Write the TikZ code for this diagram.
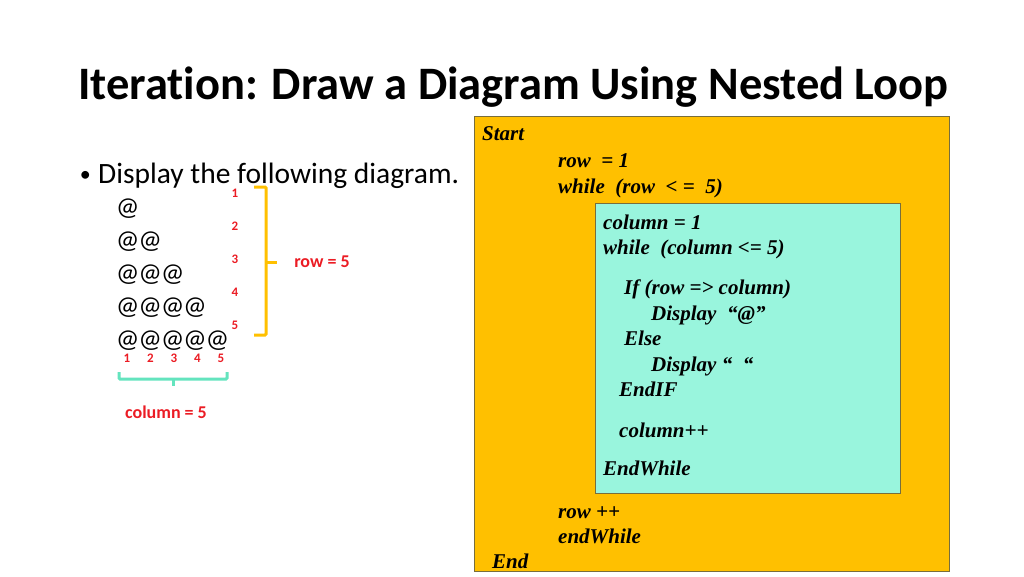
\documentclass[tikz,border=0pt]{standalone}
\usepackage{fontspec}
\setmainfont{Carlito}[Ligatures=NoCommon]
\newfontfamily\codefont{Liberation Serif}
\usepackage{tikz}
\definecolor{slidegold}{RGB}{255,192,0}
\definecolor{slideaqua}{RGB}{153,245,221}
\definecolor{braceaqua}{RGB}{100,228,190}
\definecolor{slidered}{RGB}{235,28,36}
\definecolor{boxedge}{RGB}{120,110,60}

\begin{document}
\begin{tikzpicture}[x=1pt, y=-1pt,
    code/.style={anchor=base west, inner sep=0pt, font=\codefont\bfseries\itshape\fontsize{21}{21}\selectfont},
    idx/.style={inner sep=0pt, text=slidered, font=\bfseries\fontsize{13}{13}\selectfont},
    note/.style={inner sep=0pt, text=slidered, font=\bfseries\fontsize{18}{18}\selectfont}]
                \useasboundingbox (0,0) rectangle (1024,576);
                % title and bullet
                \node[anchor=base west, inner sep=0pt, font=\bfseries\fontsize{46.5}{46.5}\selectfont] (title) at (78,99) {Iteration: Draw a Diagram Using Nested Loop};
                \node[anchor=base west, inner sep=0pt, font=\fontsize{29.5}{29.5}\selectfont] (bullet) at (98,183) {Display the following diagram.};
                \node[anchor=base east, inner sep=0pt, font=\fontsize{22}{22}\selectfont] (dot) at (91,181) {\textbullet};
                % the @ triangle
                \foreach \r in {1,...,5} {
                    \foreach \c in {1,...,\r} {
                        \node[anchor=west, inner sep=0pt, font=\fontsize{26}{26}\selectfont] (at\r\c) at ({116+22.4*(\c-1)}, {209+33*(\r-1)}) {@};
                    }
                    \node[idx] (r\r) at (235, {193+33*(\r-1)}) {\r};
                    \node[idx] (c\r) at ({127+23.5*(\r-1)}, 358) {\r};
                }
                % brackets
                \draw[slidegold, line width=3pt, rounded corners=1pt] (254,187) -- (266,187) -- (266,335) -- (254,335);
                \draw[slidegold, line width=3pt] (266,262) -- (277,262);
                \node[note] (rows) at (322,262) {row = 5};
                \draw[braceaqua, line width=3pt, rounded corners=1pt] (119,372) -- (119,379) -- (227,379) -- (227,372);
                \draw[braceaqua, line width=3pt] (173,379) -- (173,386);
                \node[note] (cols) at (166,412) {column = 5};
                % pseudo code boxes
                \draw[boxedge, fill=slidegold, line width=0.8pt] (474,116) rectangle (949,571);
                \draw[boxedge, fill=slideaqua, line width=0.8pt] (595,203) rectangle (900,493);
                \foreach \x/\y/\txt [count=\i] in {482/133/Start, 558/160/row\ \ = 1, 558/186/while\ \ (row\ \ < =\ \ 5),
                    603/222/column = 1, 603/247/while\ \ (column <= 5), 624/287/If (row => column),
                    651/313/Display\ \ “@”, 624/338/Else, 651/364/Display “\ \ “, 619/389/EndIF,
                    619/430/column++, 603/468/EndWhile, 558/511/row ++, 558/536/endWhile, 492/561/End} {
                    \node[code] (l\i) at (\x, \y+7) {\txt};
                }
            \end{tikzpicture}
\end{document}
